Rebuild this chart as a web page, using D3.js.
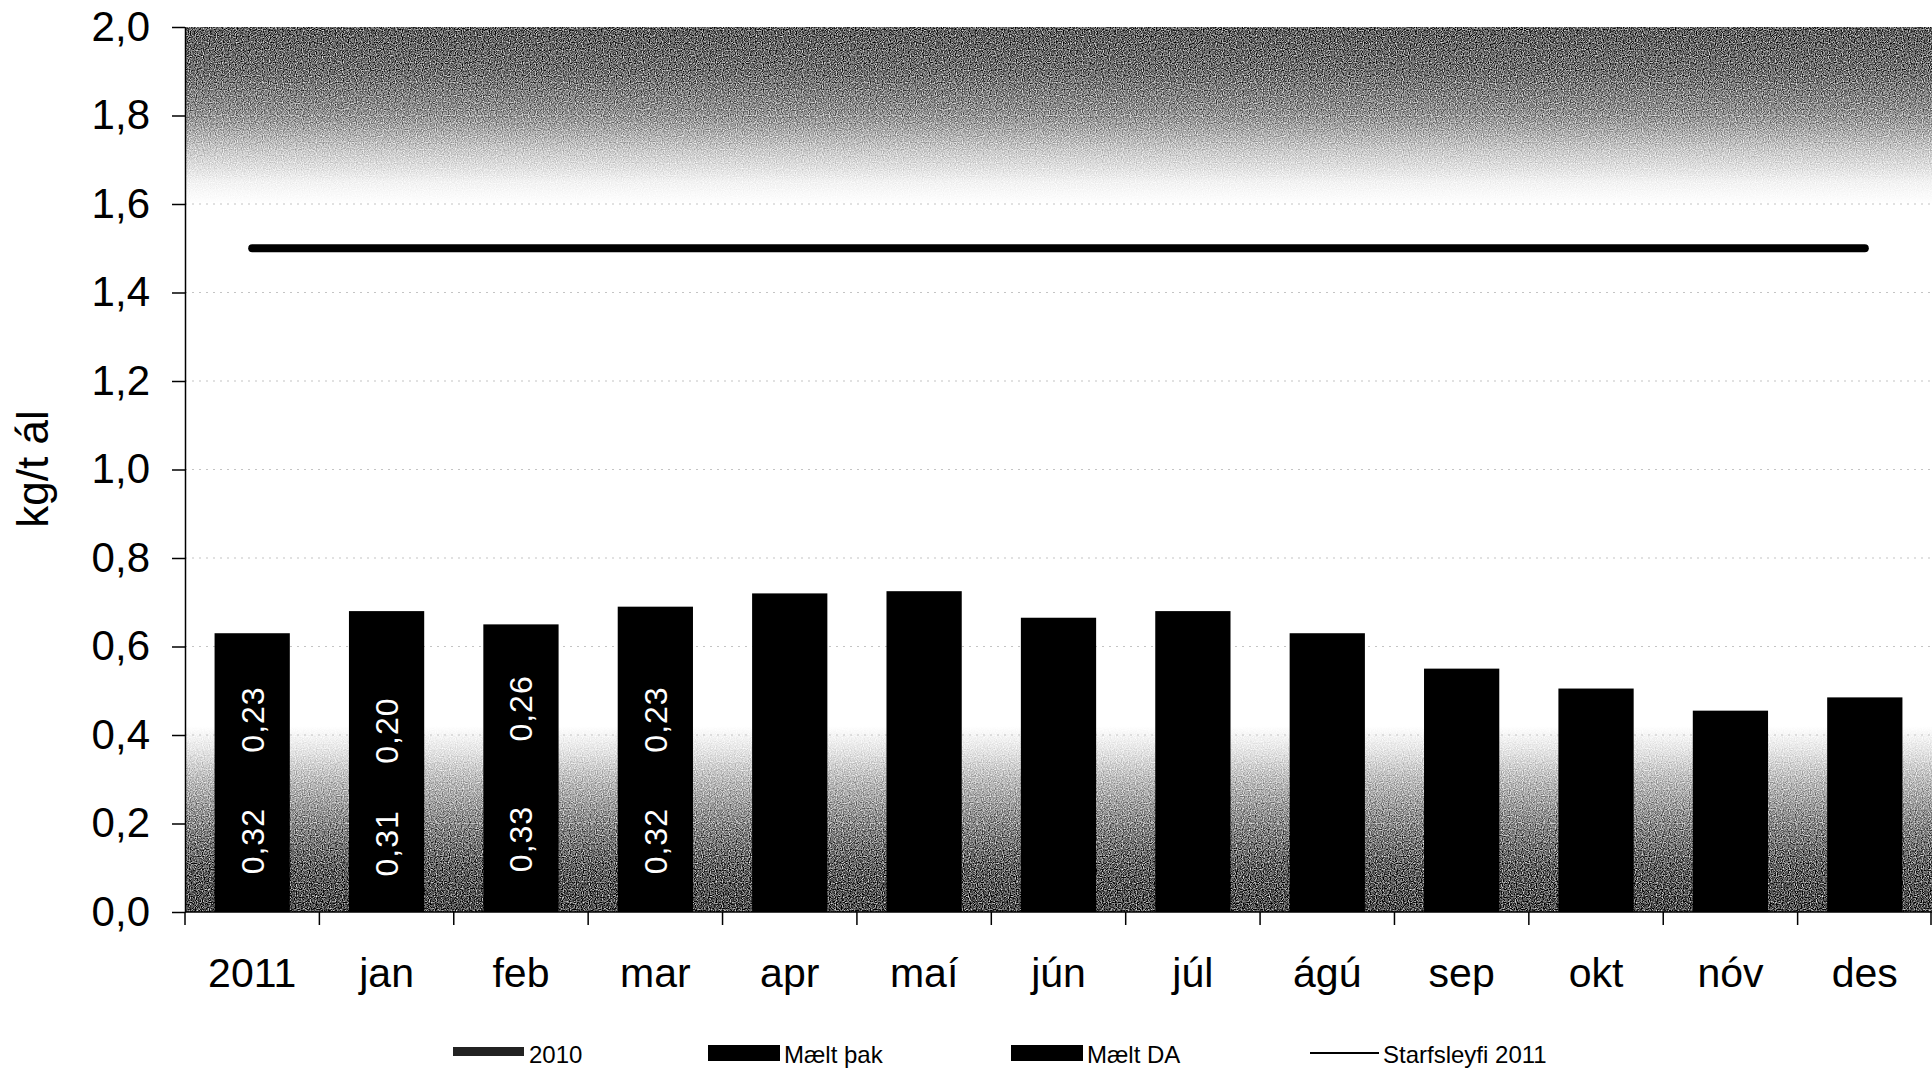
<!doctype html>
<html>
<head>
<meta charset="utf-8">
<script src="https://cdnjs.cloudflare.com/ajax/libs/d3/7.8.5/d3.min.js"></script>
<style>
  body { margin: 0; background: #fff; }
  svg { font-family: "Liberation Sans", Arial, sans-serif; }
  .yaxis path.domain { stroke: #000; stroke-width: 1.5; }
  .yaxis .tick line { stroke: #000; stroke-width: 1.5; }
  .yaxis .tick text { font-size: 42px; fill: #000; }
  .xaxis path.domain { display: none; }
  .xaxis .tick text { font-size: 41px; fill: #000; }
  .grid line { stroke: #c4c4c4; stroke-width: 1.2; stroke-dasharray: 2,5; }
  .barlabel { fill: #fff; font-size: 32px; letter-spacing: 1px; }
  .legend text { font-size: 24px; fill: #000; }
</style>
</head>
<body>
<svg width="1932" height="1071"></svg>
<script>
  var categories = ["2011", "jan", "feb", "mar", "apr", "maí", "jún", "júl", "ágú", "sep", "okt", "nóv", "des"];
  var barTotals = [0.63, 0.68, 0.65, 0.69, 0.72, 0.725, 0.665, 0.68, 0.63, 0.55, 0.505, 0.455, 0.485];
  var maeltPak = [0.32, 0.31, 0.33, 0.32, null, null, null, null, null, null, null, null, null];
  var maeltDA = [0.23, 0.20, 0.26, 0.23, null, null, null, null, null, null, null, null, null];
  var line2010 = [1.5, 1.5, 1.5, 1.5, 1.5, 1.5, 1.5, 1.5, 1.5, 1.5, 1.5, 1.5, 1.5];
  var yTicks = [0, 0.2, 0.4, 0.6, 0.8, 1.0, 1.2, 1.4, 1.6, 1.8, 2.0];
  var legendNames = ["2010", "Mælt þak", "Mælt DA", "Starfsleyfi 2011"];

  var svg = d3.select("svg");
  var plotL = 185, plotR = 1932, plotT = 27, plotB = 912;

  var x = d3.scaleBand().domain(categories).range([plotL, plotR])
    .paddingInner(0.44).paddingOuter(0.22);
  var y = d3.scaleLinear().domain([0, 2]).range([plotB, plotT]);

  // plot area: gradient shading + grain, like the scanned original
  var defs = svg.append("defs");
  var grad = defs.append("linearGradient").attr("id", "bg")
    .attr("x1", 0).attr("y1", 0).attr("x2", 0).attr("y2", 1);
  [[2.0, "#5e5e5e"], [1.9, "#6e6e6e"], [1.8, "#929292"], [1.72, "#cacaca"], [1.65, "#f2f2f2"], [1.6, "#fff"],
   [0.42, "#fff"], [0.36, "#e2e2e2"], [0.3, "#bcbcbc"], [0.2, "#868686"], [0.1, "#5e5e5e"], [0.0, "#4a4a4a"]]
    .forEach(function (s) {
      grad.append("stop").attr("offset", (2 - s[0]) / 2).attr("stop-color", s[1]);
    });

  var grain = defs.append("filter").attr("id", "grain")
    .attr("x", 0).attr("y", 0).attr("width", 1).attr("height", 1)
    .attr("color-interpolation-filters", "sRGB");
  grain.append("feTurbulence").attr("type", "fractalNoise")
    .attr("baseFrequency", 0.85).attr("numOctaves", 1).attr("seed", 4).attr("result", "noise");
  grain.append("feColorMatrix").attr("in", "noise").attr("type", "matrix")
    .attr("values", "1 0 0 0 0  1 0 0 0 0  1 0 0 0 0  0 0 0 0 1").attr("result", "gray");
  var a = 3;
  grain.append("feComposite").attr("in", "SourceGraphic").attr("in2", "gray")
    .attr("operator", "arithmetic")
    .attr("k1", -a).attr("k2", 1 + a / 2).attr("k3", a).attr("k4", -a / 2);

  svg.append("rect")
    .attr("x", plotL).attr("y", plotT)
    .attr("width", plotR - plotL).attr("height", plotB - plotT)
    .attr("fill", "url(#bg)").attr("filter", "url(#grain)");

  // gridlines
  svg.append("g").attr("class", "grid")
    .selectAll("line").data(yTicks.filter(function (d) { return d > 0 && d < 2; }))
    .enter().append("line")
      .attr("x1", plotL).attr("x2", plotR)
      .attr("y1", function (d) { return y(d); })
      .attr("y2", function (d) { return y(d); });

  // bars
  svg.append("g").selectAll("rect")
    .data(categories).enter().append("rect")
      .attr("x", function (d) { return x(d); })
      .attr("width", x.bandwidth())
      .attr("y", function (d, i) { return y(barTotals[i]); })
      .attr("height", function (d, i) { return y(0) - y(barTotals[i]); })
      .attr("fill", "#000");

  // bar value labels (rotated, white)
  var labels = [];
  categories.forEach(function (c, i) {
    if (maeltPak[i] != null) labels.push({ c: c, v: maeltPak[i], mid: maeltPak[i] / 2 });
    if (maeltDA[i] != null) labels.push({ c: c, v: maeltDA[i], mid: maeltPak[i] + maeltDA[i] / 2 });
  });
  svg.append("g").selectAll("text")
    .data(labels).enter().append("text")
      .attr("class", "barlabel")
      .attr("transform", function (d) {
        return "translate(" + (x(d.c) + x.bandwidth() / 2) + "," + y(d.mid) + ") rotate(-90)";
      })
      .attr("text-anchor", "middle")
      .attr("dy", "0.36em")
      .text(function (d) { return d3.format(".2f")(d.v).replace(".", ","); });

  // 2010 line
  var line = d3.line()
    .x(function (d, i) { return x(categories[i]) + x.bandwidth() / 2; })
    .y(function (d) { return y(d); });
  svg.append("path")
    .attr("d", line(line2010))
    .attr("fill", "none").attr("stroke", "#000")
    .attr("stroke-width", 8).attr("stroke-linecap", "round");

  // axes
  svg.append("g").attr("class", "yaxis")
    .attr("transform", "translate(" + plotL + ",0)")
    .call(d3.axisLeft(y).tickValues(yTicks).tickSize(13).tickSizeOuter(0).tickPadding(22)
      .tickFormat(function (d) { return d3.format(".1f")(d).replace(".", ","); }));

  svg.append("line")
    .attr("x1", plotL).attr("x2", plotR)
    .attr("y1", plotB).attr("y2", plotB)
    .attr("stroke", "#000").attr("stroke-width", 1.5);

  var boundaries = categories.map(function (c) { return x(c) - x.step() * x.paddingInner() / 2; });
  boundaries.push(plotR - 1);
  svg.append("g").selectAll("line")
    .data(boundaries).enter().append("line")
      .attr("x1", function (d) { return d; }).attr("x2", function (d) { return d; })
      .attr("y1", plotB).attr("y2", plotB + 13)
      .attr("stroke", "#000").attr("stroke-width", 1.5);

  svg.append("g").attr("class", "xaxis")
    .attr("transform", "translate(0," + plotB + ")")
    .call(d3.axisBottom(x).tickSize(0).tickPadding(46));

  // y title
  svg.append("text")
    .attr("transform", "translate(48,469) rotate(-90)")
    .attr("text-anchor", "middle")
    .attr("font-size", 44)
    .text("kg/t ál");

  // legend
  var legendX = [453, 708, 1011, 1310];
  var lg = svg.append("g").attr("class", "legend");
  legendNames.forEach(function (name, i) {
    var g = lg.append("g").attr("transform", "translate(" + legendX[i] + ",0)");
    if (i === 0) {
      g.append("rect").attr("x", 0).attr("y", 1047).attr("width", 71).attr("height", 9).attr("fill", "#222");
    } else if (i === 3) {
      g.append("line").attr("x1", 0).attr("x2", 69).attr("y1", 1053).attr("y2", 1053)
        .attr("stroke", "#000").attr("stroke-width", 2);
    } else {
      g.append("rect").attr("x", 0).attr("y", 1045).attr("width", 72).attr("height", 16).attr("fill", "#000");
    }
    g.append("text").attr("x", i === 3 ? 73 : 76).attr("y", 1063).text(name);
  });
</script>
</body>
</html>
